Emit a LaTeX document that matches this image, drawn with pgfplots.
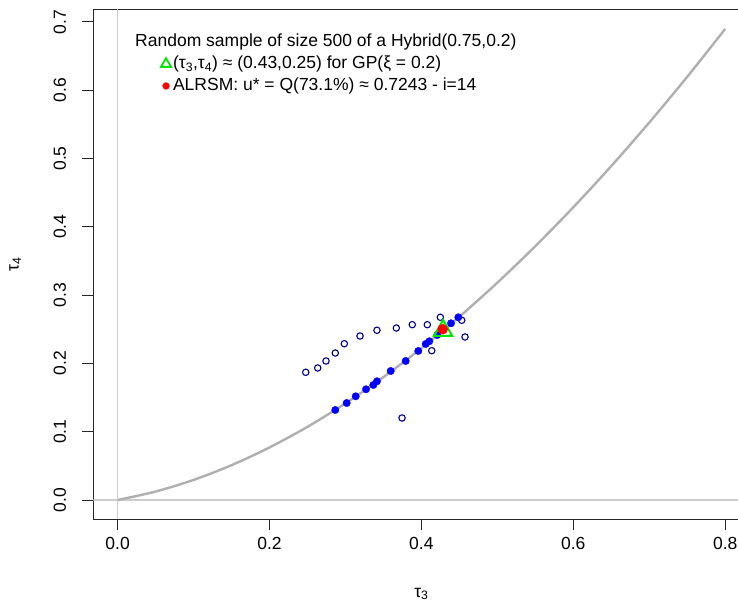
\documentclass[border=0pt]{standalone}
\usepackage{fontspec}
\setmainfont{Liberation Sans}
\usepackage{pgfplots}
\pgfplotsset{compat=1.18}
\definecolor{rnavy}{RGB}{0,0,139}
\definecolor{rblue}{RGB}{0,0,255}
\definecolor{rgreen}{RGB}{0,230,0}
\definecolor{rred}{RGB}{255,0,0}
\definecolor{curvegray}{RGB}{175,175,175}
\definecolor{linegray}{RGB}{205,205,205}

\pgfplotstableread{
t3 t4
0.00 0.00000
0.05 0.01238
0.10 0.02941
0.15 0.05097
0.20 0.07692
0.25 0.10714
0.30 0.14151
0.35 0.17991
0.40 0.22222
0.45 0.26835
0.50 0.31818
0.55 0.37162
0.60 0.42857
0.65 0.48894
0.70 0.55263
0.75 0.61957
0.80 0.68966
}\gpcurve

\pgfplotstableread{
t3 t4
0.2477 0.1870
0.2635 0.1933
0.2744 0.2035
0.2866 0.2152
0.2985 0.2288
0.3192 0.2401
0.3415 0.2485
0.3670 0.2518
0.3880 0.2567
0.4078 0.2567
0.4249 0.2675
0.4531 0.2631
0.4574 0.2387
0.4136 0.2186
0.3745 0.1201
}\hollow

\pgfplotstableread{
t3 t4
0.2866 0.1318
0.3016 0.1420
0.3135 0.1518
0.3271 0.1621
0.3367 0.1684
0.3415 0.1738
0.3596 0.1889
0.3793 0.2035
0.3959 0.2182
0.4057 0.2284
0.4104 0.2324
0.4209 0.2416
0.4390 0.2587
0.4486 0.2675
}\filled

\begin{document}
\begin{tikzpicture}[font=\fontsize{17.5}{21}\selectfont]
\begin{axis}[
  name=ax, at={(0,0)}, anchor=south west,
  scale only axis, width=656.2pt, height=509.7pt,
  xmin=-0.032, xmax=0.832, ymin=-0.0278, ymax=0.7184,
  axis line style={draw=black!85, line width=0.9pt},
  xtick={0,0.2,0.4,0.6,0.8},
  ytick={0,0.1,0.2,0.3,0.4,0.5,0.6,0.7},
  xtick pos=left, ytick pos=left,
  tick align=outside, major tick length=11pt,
  every tick/.style={draw=black!85, line width=0.9pt},
  xticklabel style={anchor=north, inner sep=0pt},
  yticklabel style={rotate=90, anchor=south, inner sep=0pt},
  xticklabel shift=7pt,
  yticklabel shift=16pt,
  /pgf/number format/fixed,
  /pgf/number format/fixed zerofill,
  /pgf/number format/precision=1,
  /pgf/number format/assume math mode=true,
  xlabel={τ\textsubscript{3}},
  ylabel={τ\textsubscript{4}},
  xlabel style={at={([yshift=-75pt]axis description cs:0.5,0)}, anchor=center, inner sep=0pt},
  ylabel style={at={([xshift=-78pt]axis description cs:0,0.5)}, anchor=center, inner sep=0pt},
  legend style={at={(axis description cs:0.1029,0.9088)}, anchor=north west,
    draw=none, fill=none, inner sep=0pt, row sep=6pt, column sep=2pt,
    nodes={inner sep=0pt, text height=12.5pt, text depth=3.5pt}},
  legend cell align=left,
  legend image code/.code={\draw[#1] plot coordinates {(0pt,0pt)};},
]
\addplot[linegray, line width=1.2pt, forget plot] coordinates {(0,-0.0278) (0,0.7184)};
\addplot[linegray, line width=1.2pt, forget plot] coordinates {(-0.032,0) (0.832,0)};
\addplot[curvegray, line width=2.4pt, smooth, forget plot] table[x=t3, y=t4] {\gpcurve};
\addplot[only marks, mark=*, mark size=3.2pt, mark options={draw=rnavy, fill=white, line width=1.1pt}, forget plot] table[x=t3, y=t4] {\hollow};
\addplot[only marks, mark=*, mark size=3.7pt, mark options={draw=rblue, fill=rblue}, forget plot] table[x=t3, y=t4] {\filled};
\addplot[only marks, mark=triangle, mark size=10.5pt, mark options={draw=rgreen, line width=2pt}, forget plot] coordinates {(0.4286,0.2481)};
\addplot[only marks, mark=*, mark size=5pt, mark options={draw=rred, fill=rred}, forget plot] coordinates {(0.428,0.250)};
\addlegendimage{only marks, mark=triangle, mark size=5.8pt, mark options={draw=rgreen, line width=1.8pt}}
\addlegendentry{(τ\textsubscript{3},τ\textsubscript{4}) ≈ (0.43,0.25) for GP(ξ = 0.2)}
\addlegendimage{only marks, mark=*, mark size=3.4pt, mark options={draw=rred, fill=rred}}
\addlegendentry{ALRSM: u* = Q(73.1\%) ≈ 0.7243 - i=14}
\node[anchor=base west, inner sep=0pt] at (axis description cs:0.0636,0.9274) {Random sample of size 500 of a Hybrid(0.75,0.2)};
\end{axis}
\pgfresetboundingbox
\path ([shift={(-93.3pt,-85pt)}]ax.south west) rectangle ([shift={(644.7pt,519pt)}]ax.south west);
\end{tikzpicture}
\end{document}
